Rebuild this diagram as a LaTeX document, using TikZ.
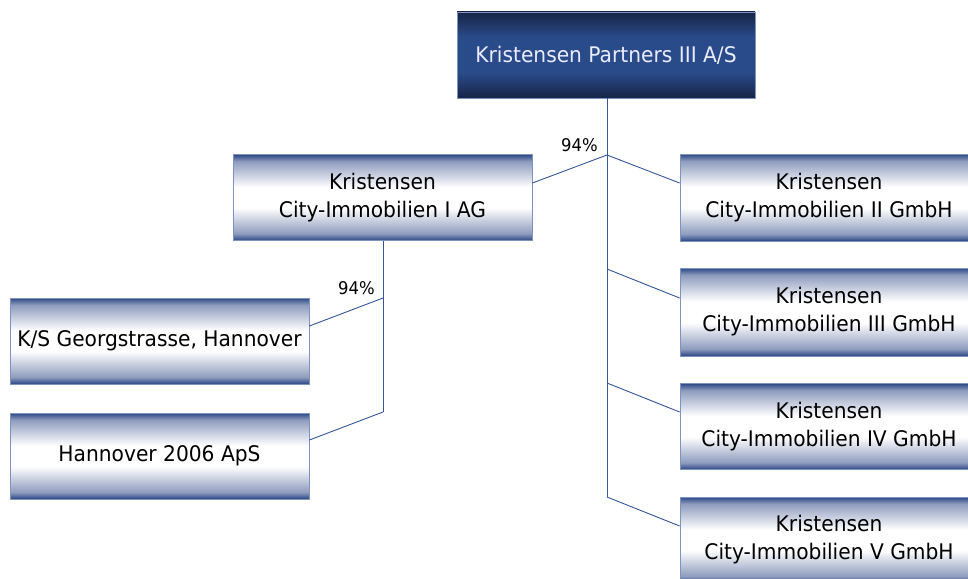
\documentclass[tikz,border=0pt]{standalone}
\usepackage{fontspec}
\setmainfont{DejaVu Sans}[FakeStretch=0.94]
\definecolor{navy}{HTML}{2B4784}
\definecolor{navymid}{HTML}{8E9CBE}
\definecolor{dk1}{HTML}{172447}
\definecolor{dk2}{HTML}{2A4B8A}
\definecolor{edgeblue}{HTML}{7E93BE}
\definecolor{linkblue}{HTML}{34569A}
\pgfdeclareverticalshading{lightbox}{100bp}{color(0bp)=(navy); color(25bp)=(navy); color(29bp)=(navymid); color(44bp)=(white); color(56bp)=(white); color(71bp)=(navymid); color(75bp)=(navy); color(100bp)=(navy)}
\pgfdeclareverticalshading{darkbox}{100bp}{color(0bp)=(dk1); color(25bp)=(dk1); color(40bp)=(dk2); color(60bp)=(dk2); color(75bp)=(dk1); color(100bp)=(dk1)}
\tikzset{
  orgbox/.style={draw=edgeblue, line width=0.8pt, shading=lightbox, rectangle, inner sep=0pt, align=center, font=\fontsize{21.5}{28}\selectfont, text=black},
  topbox/.style={orgbox, shading=darkbox, text=white!92!blue},
  link/.style={draw=linkblue, line width=0.9pt},
  pct/.style={font=\fontsize{17.5}{20}\selectfont, inner sep=0pt}
}
\begin{document}
\begin{tikzpicture}[x=1pt,y=-1pt]
\useasboundingbox (0,0) rectangle (968,578);
\begin{scope}
\clip (0,0) rectangle (968,578);
\node[topbox, minimum width=298pt, minimum height=86pt] (top) at (606,55) {Kristensen Partners III A/S};
\node[orgbox, minimum width=299pt, minimum height=86pt] (ag) at (382.5,197.5) {Kristensen\\City-Immobilien I AG};
\node[orgbox, minimum width=298pt, minimum height=87pt] (ii) at (829,197.5) {Kristensen\\City-Immobilien II GmbH};
\node[orgbox, minimum width=298pt, minimum height=88pt] (iii) at (829,312) {Kristensen\\City-Immobilien III GmbH};
\node[orgbox, minimum width=298pt, minimum height=86pt] (iv) at (829,426.5) {Kristensen\\City-Immobilien IV GmbH};
\node[orgbox, minimum width=298pt, minimum height=86pt] (v) at (829,540) {Kristensen\\City-Immobilien V GmbH};
\node[orgbox, minimum width=299pt, minimum height=86pt] (ks) at (159.5,341) {K/S Georgstrasse, Hannover};
\node[orgbox, minimum width=299pt, minimum height=86pt] (han) at (159.5,456) {Hannover 2006 ApS};
\end{scope}
% main trunk
\coordinate (j1) at (607,155);
\coordinate (j2) at (607,269);
\coordinate (j3) at (607,383);
\coordinate (j4) at (607,497);
\draw[link] (top.south -| j1) -- (j4);
\draw[link] (j1) -- (ag.east |- 0,183);
\draw[link] (j1) -- (ii.west |- 0,183);
\draw[link] (j2) -- (iii.west |- 0,298);
\draw[link] (j3) -- (iv.west |- 0,412);
\draw[link] (j4) -- (v.west |- 0,526);
\node[pct, anchor=south east] (p1) at (598,152) {94\%};
% sub trunk
\coordinate (k1) at (383,298);
\coordinate (k2) at (383,412);
\draw[link] (ag.south -| k1) -- (k2);
\draw[link] (k1) -- (ks.east |- 0,326);
\draw[link] (k2) -- (han.east |- 0,440);
\node[pct, anchor=south east] (p2) at (375,295) {94\%};
\end{tikzpicture}
\end{document}
